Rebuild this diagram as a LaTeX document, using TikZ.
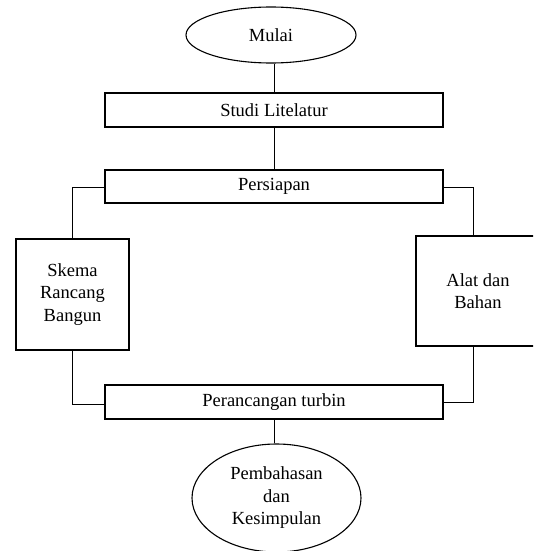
\documentclass[tikz,border=0pt]{standalone}
\usepackage{fontspec}
\setmainfont{Liberation Serif}
\usetikzlibrary{shapes.geometric}
\begin{document}
\begin{tikzpicture}[x=1pt,y=-1pt,
  txt/.style={font=\fontsize{18.5}{22.5}\selectfont, align=center, inner sep=0pt},
  boxline/.style={draw, line width=1.1pt},
  conn/.style={draw, line width=0.7pt},
  widebox/.style={boxline, txt, minimum width=338pt, minimum height=34pt},
  sidebox/.style={boxline, txt, minimum width=113pt, minimum height=111pt},
  oval/.style={ellipse, boxline, txt}]
\useasboundingbox (0,0) rectangle (533,551);
\clip (0,0) rectangle (533,551);
\node[oval, minimum width=170pt, minimum height=56pt] (mulai) at (271,35) {Mulai};
\node[widebox] (studi) at (274,110) {Studi Litelatur};
\node[widebox, minimum height=33pt] (persiapan) at (274,186.5) {Persiapan};
\node[sidebox] (skema) at (72.5,294.5) {Skema\\Rancang\\Bangun};
\node[sidebox, minimum width=124pt, minimum height=110pt] (alat) at (478,291) {Alat dan\\Bahan};
\node[widebox] (rancang) at (274,402) {Perancangan turbin};
\node[oval, minimum width=169pt, minimum height=108pt] (akhir) at (276.5,498) {Pembahasan\\dan\\Kesimpulan};
\coordinate (lt) at (72,187);
\coordinate (rt) at (473,187);
\coordinate (lb) at (72,404);
\coordinate (rb) at (473,402);
\draw[conn] (studi.north |- mulai.south) -- (studi.north);
\draw[conn] (studi.south) -- (persiapan.north);
\draw[conn] (persiapan.west |- lt) -- (lt) -- (lt |- skema.north);
\draw[conn] (persiapan.east |- rt) -- (rt) -- (rt |- alat.north);
\draw[conn] (lt |- skema.south) -- (lb) -- (rancang.west |- lb);
\draw[conn] (rt |- alat.south) -- (rb) -- (rancang.east |- rb);
\draw[conn] (rancang.south) -- (rancang.south |- akhir.north);
\end{tikzpicture}
\end{document}
